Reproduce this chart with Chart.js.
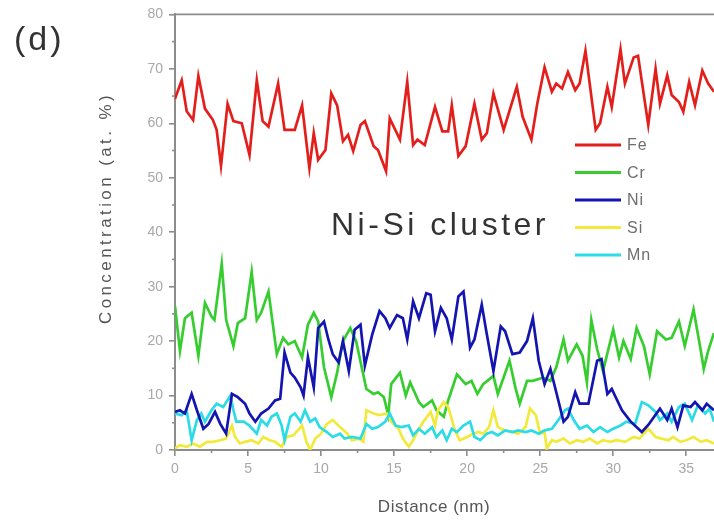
<!DOCTYPE html>
<html>
<head>
<meta charset="utf-8">
<script src="https://cdn.jsdelivr.net/npm/chart.js@4/dist/chart.umd.min.js"></script>
<style>
  html, body { margin: 0; padding: 0; background: #fff; }
  #wrap { width: 714px; height: 523px; }
</style>
</head>
<body>
<div id="wrap"><canvas id="c" width="714" height="523"></canvas></div>
<script>
// Composition profile across the Ni-Si cluster (at. %), distance in nm
const feX = [0,0.46,0.8,1.24,1.6,2.05,2.6,2.85,3.15,3.6,4.0,4.57,5.1,5.6,6.0,6.4,7.06,7.5,8.2,8.7,9.2,9.5,9.8,10.3,10.7,11.1,11.5,11.85,12.2,12.7,13.0,13.6,13.9,14.45,14.7,15.4,15.9,16.3,16.6,17.1,17.8,18.3,18.7,18.95,19.4,19.9,20.5,21.0,21.35,21.8,22.5,23.4,23.8,24.4,24.8,25.3,25.8,26.1,26.5,26.9,27.4,27.7,28.1,28.8,29.1,29.6,29.9,30.5,30.8,31.4,31.7,32.4,32.9,33.2,33.7,34.0,34.5,34.8,35.2,35.6,36.1,36.5,36.9];
const feY = [64.5,67.9,62.2,60.6,68.7,62.7,60.6,58.8,52.2,63.6,60.4,60,54.2,67.9,60.4,59.4,67.3,58.8,58.8,63.3,51.8,58.2,53.3,55.1,65.5,63.3,56.7,57.9,54.9,59.7,60.4,55.8,55.1,51.2,60.9,57,67.6,56,57,56,63,58.5,58.5,63.3,54,55.8,63.6,57,58.2,65.5,58.8,66.7,61.2,57,63.6,70.3,65.8,67.3,66.4,69.4,66.1,67.3,73.3,58.8,60,66.7,63,73.6,67.3,72.1,72.4,59.7,70,63.6,68.8,65.2,63.9,62.1,67.6,63.3,69.7,67.3,65.8];

const crX = [0,0.34,0.68,1.14,1.6,2.05,2.5,2.7,3.2,3.5,4.0,4.3,4.8,5.25,5.6,5.9,6.4,6.97,7.4,7.76,8.2,8.7,9.1,9.5,9.8,10.2,10.7,11.1,11.5,12.0,12.4,13.1,13.6,13.9,14.3,14.6,14.8,15.4,15.8,16.1,16.7,17.0,17.6,17.9,18.4,18.7,19.3,19.9,20.3,20.7,21.1,21.8,22.1,22.9,23.3,23.6,24.1,24.5,25.2,25.7,26.1,26.6,26.9,27.5,27.9,28.2,28.5,28.9,29.3,30.0,30.4,30.7,31.2,31.6,32.1,32.5,33.0,33.6,34.0,34.5,34.9,35.5,36.0,36.2,36.5,36.9];
const crY = [26.4,18.2,24.2,25.2,17.3,27,24.5,23.9,34.2,23.9,19.1,23.3,24.2,32.7,23.9,25.2,29.1,17.6,20.6,19.4,20,17,23,25.2,23.6,15.2,9.7,14.2,20,22.4,20,11.2,10.3,10.6,9.7,6.4,12.1,14.2,10,12.4,8.8,7.9,9.1,7.3,6.1,9.1,13.9,12.1,12.7,10.3,12.1,13.6,10.3,16.4,11.5,8.5,12.7,12.7,13.3,12.7,15.2,20.3,16.4,19.4,17.3,12.4,23.9,18.5,14.5,22.1,17,20,16.7,22.4,19.1,13.9,21.8,20.3,20.6,23.6,19.1,25.8,18.2,14.9,18.2,21.5];

const niX = [0,0.34,0.68,1.14,1.5,1.94,2.3,2.74,3.1,3.5,3.9,4.3,4.8,5.1,5.5,5.9,6.4,6.85,7.2,7.5,7.9,8.2,8.6,8.8,9.1,9.5,9.8,10.2,10.5,10.8,11.2,11.5,11.9,12.3,12.7,13.0,13.5,14.0,14.4,14.7,15.2,15.6,15.9,16.3,16.7,17.2,17.5,17.8,18.2,18.6,18.95,19.4,19.75,20.2,20.5,21.0,21.35,21.8,22.3,22.6,23.1,23.6,24.1,24.5,24.9,25.3,25.7,26.3,26.6,26.9,27.4,27.7,28.3,28.9,29.2,29.6,29.9,30.6,31.2,31.96,32.4,32.8,33.2,33.7,34.0,34.4,34.8,35.3,35.6,36.1,36.4,36.9];
const niY = [7,7.3,6.7,10.3,7.3,3.9,4.8,7,4.8,3,10.3,9.7,8.5,6.7,5.2,6.7,7.6,9.1,9.4,17.9,14.2,13.3,11.5,10,17,11.5,22.4,23.6,20.3,17.6,16.1,20,14.5,22.1,23,15.5,21.2,25.5,24.2,22.4,24.8,24.2,20.3,27.3,24.2,28.8,28.5,21.8,26.1,24.2,20.3,28.2,29.1,18.8,20.3,26.7,21.2,14.5,22.7,21.8,17.6,17.9,20,24.2,16.4,12.1,14.9,8.5,5.2,6.1,10.6,8.5,8.5,16.4,16.7,10.3,11.2,7.3,5.2,3.3,4.6,6.1,7.6,5.5,7.6,4.2,8.2,7.9,8.8,7.3,8.5,7.3];

const siX = [0,0.34,0.8,1.25,1.7,2.2,2.6,3.1,3.5,3.9,4.1,4.45,4.8,5.25,5.7,6.05,6.5,6.85,7.3,7.65,8.1,8.7,9.0,9.25,9.6,10.0,10.4,10.8,11.3,11.8,12.1,12.6,12.9,13.1,13.6,14.0,14.5,14.8,15.3,15.6,16.0,16.3,16.7,17.0,17.5,17.8,18.0,18.4,18.7,19.2,19.5,20.0,20.4,20.8,21.1,21.5,21.8,22.1,22.6,23.1,23.5,24.0,24.3,24.7,25.0,25.3,25.45,25.8,26.1,26.6,27.05,27.5,27.95,28.4,28.9,29.3,29.8,30.25,30.8,31.4,31.8,32.4,32.9,33.3,33.8,34.1,34.6,35.0,35.5,36.0,36.4,36.9];
const siY = [0.3,0.9,0.6,1.2,0.6,1.5,1.5,1.8,2.1,4.5,2.4,1.2,1.5,1.8,1.2,2.4,1.8,1.5,0.6,2.4,2.7,4.5,1.5,0,2.1,3,4.8,5.5,4.2,3,1.8,2.1,1.5,7.3,6.7,6.4,6.7,5.2,3.9,2.1,0.6,1.8,3.9,5.2,7,4.5,7.3,8.8,7.9,3.3,1.8,2.4,3,3.3,3,4.2,7.3,4.2,3.6,3.3,3,4.2,7.6,6.4,3,3.3,0.3,1.8,1.5,2.1,1.2,1.8,1.5,2.1,1.2,1.8,1.5,1.8,1.5,2.4,2.1,3.9,2.4,2.1,1.8,2.4,1.5,1.8,2.4,1.5,1.8,1.2];

const mnX = [0,0.46,0.8,1.14,1.5,1.8,2.05,2.5,2.85,3.3,3.8,4.0,4.2,4.7,5.1,5.6,5.9,6.3,6.6,6.97,7.3,7.5,7.9,8.2,8.6,8.9,9.25,9.6,9.9,10.4,10.8,11.3,11.6,12.1,12.7,13.1,13.5,13.9,14.4,14.7,15.1,15.5,16.0,16.3,16.7,17.1,17.6,17.9,18.3,18.6,18.95,19.3,19.75,20.2,20.5,20.9,21.35,21.7,22.1,22.6,23.1,23.5,24.0,24.4,24.9,25.3,25.8,26.25,26.7,26.9,27.3,27.7,28.2,28.65,29.1,29.6,30.0,30.5,30.9,31.5,31.96,32.4,32.9,33.2,33.7,34.0,34.5,34.9,35.4,35.8,36.3,36.6,36.9];
const mnY = [6.7,6.4,7.3,1.8,5.5,6.7,5.2,7.3,8.5,7.9,10,7.3,5.2,5.2,4.5,3,5.5,4.5,6.1,6.7,4.5,1.8,6.1,6.7,5.2,7.3,5.2,5.8,4.2,3.3,2.4,3,2.1,2.4,2.1,4.8,3.9,4.2,5.2,6.7,4.5,4.2,4.5,2.7,3.9,3,4.2,2.4,3.6,1.8,3.9,3.3,4.5,5.2,2.4,1.8,3,3.3,2.7,3.6,3.3,3.6,3.3,3.6,3,3.6,3.9,5.5,7.3,7.6,5.5,3.9,4.5,3.3,4.2,3.3,3.9,4.5,5.2,4.8,8.8,8.2,7,5.5,6.7,5.2,7.9,8.5,5.5,8.2,6.7,7.6,5.2];

const xTicks = [0, 5, 10, 15, 20, 25, 30, 35];
const yTicks = [0, 10, 20, 30, 40, 50, 60, 70, 80];

const seriesNames  = ['Fe', 'Cr', 'Ni', 'Si', 'Mn'];
const seriesColors = ['#e31f1c', '#36cd2f', '#1414b0', '#f2ea3a', '#2bdbe6'];
const seriesX = [feX, crX, niX, siX, mnX];
const seriesY = [feY, crY, niY, siY, mnY];

const FONT = '"Liberation Sans", Arial, sans-serif';
const AXIS = '#8c8c8c';

const datasets = seriesNames.map((name, i) => ({
  label: name,
  data: seriesX[i].map((x, k) => ({ x, y: seriesY[i][k] })),
  borderColor: seriesColors[i],
  borderWidth: 2.7,
  pointRadius: 0,
  tension: 0,
  fill: false,
  order: [5, 4, 1, 3, 2][i]
}));

// frame, minor ticks, legend and free text
const decor = {
  id: 'decor',
  afterDraw(chart) {
    const { ctx, chartArea: a, scales: { x, y } } = chart;
    ctx.save();
    ctx.strokeStyle = AXIS;
    ctx.lineWidth = 1.6;
    ctx.beginPath();
    ctx.moveTo(a.left, a.top);
    ctx.lineTo(a.right, a.top);
    ctx.stroke();
    // minor ticks
    for (let v = 5; v < 80; v += 10) {
      const py = y.getPixelForValue(v);
      ctx.beginPath(); ctx.moveTo(a.left - 3, py); ctx.lineTo(a.left, py); ctx.stroke();
    }
    for (let v = 2.5; v < x.max; v += 5) {
      const px = x.getPixelForValue(v);
      ctx.beginPath(); ctx.moveTo(px, a.bottom); ctx.lineTo(px, a.bottom + 3); ctx.stroke();
    }
    // legend
    const ly0 = 145, ldy = 27.5;
    seriesNames.forEach((n, i) => {
      const yy = ly0 + i * ldy;
      ctx.strokeStyle = seriesColors[i];
      ctx.lineWidth = 3;
      ctx.beginPath(); ctx.moveTo(575, yy); ctx.lineTo(621, yy); ctx.stroke();
      ctx.fillStyle = '#6e6e6e';
      ctx.font = '16px ' + FONT;
      ctx.letterSpacing = '1px';
      ctx.textBaseline = 'middle';
      ctx.textAlign = 'left';
      ctx.fillText(n, 627, yy + 1);
    });
    // annotation text
    ctx.fillStyle = '#333';
    ctx.font = '32px ' + FONT;
    ctx.letterSpacing = '3.5px';
    ctx.textAlign = 'left';
    ctx.textBaseline = 'middle';
    ctx.fillText('Ni-Si cluster', 331, 226);
    ctx.font = '34px ' + FONT;
    ctx.letterSpacing = '3px';
    ctx.fillText('(d)', 14, 41);
    // axis titles
    ctx.fillStyle = '#555';
    ctx.font = '17px ' + FONT;
    ctx.letterSpacing = '0.5px';
    ctx.textAlign = 'center';
    ctx.fillText('Distance (nm)', 434, 507);
    ctx.save();
    ctx.translate(106, 208);
    ctx.rotate(-Math.PI / 2);
    ctx.letterSpacing = '3.4px';
    ctx.fillText('Concentration (at. %)', 0, 0);
    ctx.restore();
    ctx.restore();
  }
};

new Chart(document.getElementById('c'), {
  type: 'line',
  data: { datasets },
  options: {
    responsive: false,
    animation: false,
    events: [],
    layout: { padding: { left: 0, right: 0, top: 10, bottom: 0 } },
    plugins: { legend: { display: false }, tooltip: { enabled: false } },
    scales: {
      x: {
        type: 'linear',
        min: 0,
        max: 36.9,
        afterFit: s => { s.height = 73; },
        afterBuildTicks: s => { s.ticks = xTicks.map(v => ({ value: v })); },
        border: { display: true, color: AXIS, width: 2 },
        grid: { display: true, drawOnChartArea: false, drawTicks: true, tickLength: 6, color: AXIS, lineWidth: 1.6 },
        ticks: { includeBounds: false, color: '#a8a8a8', font: { family: FONT, size: 14 }, padding: 5, maxRotation: 0 }
      },
      y: {
        min: 0,
        max: 80,
        afterFit: s => { s.width = 175; },
        afterBuildTicks: s => { s.ticks = yTicks.map(v => ({ value: v })); },
        border: { display: true, color: AXIS, width: 2 },
        grid: { display: true, drawOnChartArea: false, drawTicks: true, tickLength: 6, color: AXIS, lineWidth: 1.6 },
        ticks: { color: '#a8a8a8', font: { family: FONT, size: 14 }, padding: 6 }
      }
    }
  },
  plugins: [decor]
});
</script>
</body>
</html>
